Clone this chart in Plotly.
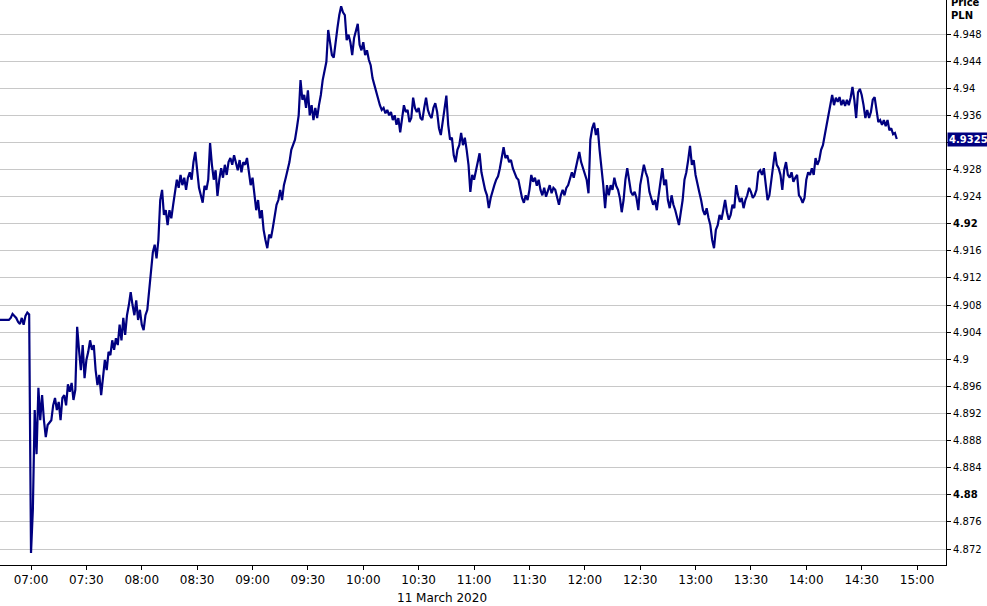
import pandas as pd
import plotly.graph_objects as go

# EUR/PLN style minute prices, 11 March 2020 (one value per minute from 06:40)
start_time = "2020-03-11 06:40"
prices = [
    4.9058, 4.9058, 4.9058, 4.9058, 4.9058, 4.9058, 4.9058, 4.9058, 4.9058, 4.9061,
    4.9067, 4.9064, 4.9061, 4.9055, 4.9052, 4.9061, 4.9051, 4.9064, 4.9069, 4.9066,
    4.8714, 4.8778, 4.8925, 4.8860, 4.8958, 4.8910, 4.8947, 4.8910, 4.8885, 4.8903,
    4.8907, 4.8910, 4.8932, 4.8943, 4.8925, 4.8937, 4.8910, 4.8943, 4.8947, 4.8932,
    4.8963, 4.8952, 4.8965, 4.8940, 4.8955, 4.9048, 4.9014, 4.8984, 4.9021, 4.8972,
    4.8999, 4.9011, 4.9028, 4.9014, 4.9021, 4.8984, 4.8962, 4.8977, 4.8947, 4.8977,
    4.8999, 4.8984, 4.9011, 4.9006, 4.9028, 4.9014, 4.9031, 4.9021, 4.9051, 4.9028,
    4.9061, 4.9036, 4.9065, 4.9080, 4.9099, 4.9080, 4.9065, 4.9087, 4.9058, 4.9073,
    4.9051, 4.9043, 4.9065, 4.9073, 4.9102, 4.9132, 4.9158, 4.9169, 4.9149, 4.9176,
    4.9235, 4.9250, 4.9213, 4.9220, 4.9198, 4.9220, 4.9208, 4.9228, 4.9250, 4.9265,
    4.9253, 4.9272, 4.9257, 4.9268, 4.9250, 4.9268, 4.9276, 4.9265, 4.9291, 4.9306,
    4.9279, 4.9253, 4.9242, 4.9231, 4.9256, 4.9250, 4.9265, 4.9319, 4.9287, 4.9265,
    4.9279, 4.9241, 4.9265, 4.9282, 4.9268, 4.9287, 4.9272, 4.9291, 4.9297, 4.9287,
    4.9301, 4.9291, 4.9279, 4.9294, 4.9276, 4.9291, 4.9287, 4.9297, 4.9276, 4.9257,
    4.9268, 4.9242, 4.9220, 4.9235, 4.9208, 4.9220, 4.9191, 4.9176, 4.9164, 4.9184,
    4.9179, 4.9194, 4.9213, 4.9228, 4.9235, 4.9250, 4.9235, 4.9257, 4.9268, 4.9279,
    4.9291, 4.9309, 4.9316, 4.9324, 4.9341, 4.9360, 4.9412, 4.9383, 4.9390, 4.9371,
    4.9397, 4.9360, 4.9375, 4.9353, 4.9371, 4.9356, 4.9375, 4.9390, 4.9412, 4.9427,
    4.9439, 4.9486, 4.9464, 4.9449, 4.9445, 4.9471, 4.9489, 4.9508, 4.9521, 4.9512,
    4.9508, 4.9471, 4.9479, 4.9468, 4.9449, 4.9474, 4.9486, 4.9495, 4.9464, 4.9456,
    4.9468, 4.9449, 4.9456, 4.9442, 4.9434, 4.9415, 4.9405, 4.9394, 4.9383, 4.9375,
    4.9368, 4.9371, 4.9363, 4.9368, 4.9360, 4.9365, 4.9353, 4.9360, 4.9346, 4.9356,
    4.9335, 4.9353, 4.9375, 4.9365, 4.9368, 4.9350, 4.9356, 4.9386, 4.9371, 4.9365,
    4.9371, 4.9356, 4.9353, 4.9371, 4.9386, 4.9368, 4.9360, 4.9356, 4.9371, 4.9378,
    4.9365, 4.9341, 4.9331, 4.9350, 4.9368, 4.9389, 4.9346, 4.9324, 4.9327, 4.9301,
    4.9291, 4.9309, 4.9316, 4.9334, 4.9316, 4.9327, 4.9309, 4.9287, 4.9247, 4.9272,
    4.9265, 4.9279, 4.9294, 4.9304, 4.9276, 4.9262, 4.9250, 4.9242, 4.9223, 4.9238,
    4.9250, 4.9257, 4.9265, 4.9270, 4.9282, 4.9297, 4.9313, 4.9297, 4.9301, 4.9291,
    4.9294, 4.9282, 4.9276, 4.9268, 4.9265, 4.9250, 4.9238, 4.9231, 4.9242, 4.9235,
    4.9250, 4.9272, 4.9262, 4.9268, 4.9256, 4.9265, 4.9250, 4.9242, 4.9253, 4.9240,
    4.9250, 4.9257, 4.9245, 4.9253, 4.9250, 4.9238, 4.9228, 4.9242, 4.9250, 4.9242,
    4.9253, 4.9257, 4.9265, 4.9276, 4.9268, 4.9282, 4.9294, 4.9306, 4.9291, 4.9282,
    4.9272, 4.9265, 4.9245, 4.9324, 4.9341, 4.9349, 4.9331, 4.9341, 4.9309, 4.9287,
    4.9257, 4.9223, 4.9257, 4.9242, 4.9257, 4.9250, 4.9268, 4.9256, 4.9250, 4.9238,
    4.9217, 4.9235, 4.9265, 4.9282, 4.9265, 4.9247, 4.9242, 4.9247, 4.9238, 4.9220,
    4.9257, 4.9272, 4.9287, 4.9276, 4.9268, 4.9247, 4.9238, 4.9228, 4.9235, 4.9220,
    4.9242, 4.9265, 4.9282, 4.9257, 4.9265, 4.9235, 4.9223, 4.9242, 4.9228, 4.9220,
    4.9209, 4.9198, 4.9217, 4.9235, 4.9265, 4.9276, 4.9294, 4.9315, 4.9287, 4.9294,
    4.9272, 4.9257, 4.9247, 4.9235, 4.9220, 4.9213, 4.9223, 4.9209, 4.9198, 4.9176,
    4.9164, 4.9191, 4.9198, 4.9213, 4.9206, 4.9220, 4.9235, 4.9217, 4.9206, 4.9213,
    4.9228, 4.9223, 4.9257, 4.9242, 4.9232, 4.9238, 4.9223, 4.9235, 4.9242, 4.9253,
    4.9247, 4.9238, 4.9242, 4.9250, 4.9276, 4.9279, 4.9272, 4.9282, 4.9257, 4.9235,
    4.9242, 4.9262, 4.9287, 4.9306, 4.9287, 4.9282, 4.9272, 4.9250, 4.9279, 4.9291,
    4.9272, 4.9268, 4.9276, 4.9262, 4.9268, 4.9272, 4.9242, 4.9238, 4.9231, 4.9238,
    4.9265, 4.9276, 4.9272, 4.9282, 4.9272, 4.9297, 4.9287, 4.9294, 4.9309, 4.9316,
    4.9331, 4.9346, 4.9365, 4.9378, 4.9390, 4.9375, 4.9386, 4.9380, 4.9387, 4.9375,
    4.9383, 4.9374, 4.9383, 4.9375, 4.9386, 4.9402, 4.9383, 4.9356, 4.9394, 4.9399,
    4.9390, 4.9375, 4.9356, 4.9368, 4.9356, 4.9365, 4.9383, 4.9387, 4.9371, 4.9350,
    4.9353, 4.9346, 4.9353, 4.9344, 4.9353, 4.9338, 4.9341, 4.9332, 4.9334, 4.9325,
]
times = pd.date_range(start_time, periods=len(prices), freq="min")

y_ticks = [4.872, 4.876, 4.88, 4.884, 4.888, 4.892, 4.896, 4.9, 4.904, 4.908,
           4.912, 4.916, 4.92, 4.924, 4.928, 4.932, 4.936, 4.94, 4.944, 4.948]
bold_ticks = [4.88, 4.92]
y_ticktext = [f"<b>{v:g}</b>" if v in bold_ticks else f"{v:g}" for v in y_ticks]

last_price = prices[-1]
date_label = "11 March 2020"

font_family = "DejaVu Sans"
navy = "#000080"

fig = go.Figure(
    go.Scatter(
        x=times,
        y=prices,
        mode="lines",
        line=dict(color=navy, width=2.2),
        hoverinfo="x+y",
    )
)

fig.update_layout(
    width=987,
    height=606,
    margin=dict(l=0, r=41, t=0, b=41),
    plot_bgcolor="white",
    paper_bgcolor="white",
    showlegend=False,
    font=dict(family=font_family, color="#000000"),
    xaxis=dict(
        range=["2020-03-11 06:43:12", "2020-03-11 15:15:40"],
        tick0="2020-03-11 07:00",
        dtick=30 * 60 * 1000,
        tickformat="%H:%M",
        showgrid=False,
        zeroline=False,
        showline=True,
        linecolor="#000000",
        linewidth=1,
        ticks="outside",
        ticklen=4,
        tickcolor="#000000",
        tickfont=dict(size=12, family=font_family),
    ),
    yaxis=dict(
        side="right",
        range=[4.86964, 4.95302],
        tickvals=y_ticks,
        ticktext=y_ticktext,
        showgrid=True,
        gridcolor="#c8c8c8",
        gridwidth=1,
        zeroline=False,
        showline=True,
        linecolor="#000000",
        linewidth=1,
        ticks="outside",
        ticklen=4,
        tickcolor="#000000",
        tickfont=dict(size=10, family=font_family),
    ),
    annotations=[
        dict(
            xref="paper", yref="y", x=1, y=last_price,
            xanchor="left", yanchor="middle", xshift=1,
            text=f"<b>{last_price}</b>",
            showarrow=False,
            bgcolor=navy,
            borderpad=1,
            font=dict(color="white", size=10, family=font_family),
        ),
        dict(
            xref="paper", yref="paper", x=1, y=1,
            xanchor="left", yanchor="top", xshift=3, yshift=5,
            text="<b>Price</b><br><b>PLN</b>",
            showarrow=False,
            align="left",
            font=dict(size=10, family=font_family),
        ),
        dict(
            xref="paper", yref="paper", x=0.467, y=-0.0584,
            xanchor="center", yanchor="middle",
            text=date_label,
            showarrow=False,
            font=dict(size=12, family=font_family),
        ),
    ],
)

fig.write_html(
    "out.html",
    config={"displayModeBar": False},
    post_script="document.body.style.margin='0';",
)
